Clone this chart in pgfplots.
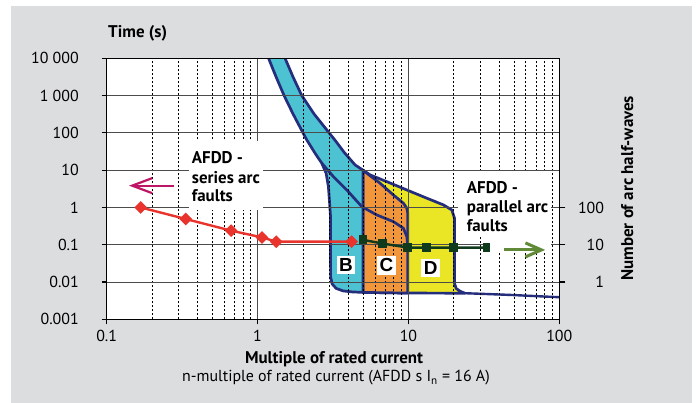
\documentclass[border=0pt]{standalone}
\usepackage{fontspec}
\setmainfont{PT Sans}
\newfontfamily\letterfont{Liberation Sans}
\usepackage{pgfplots}
\pgfplotsset{compat=1.18}
\usetikzlibrary{arrows.meta}

\definecolor{panelgray}{RGB}{220,221,223}
\definecolor{bfill}{RGB}{76,194,211}
\definecolor{cfill}{RGB}{242,150,60}
\definecolor{dfill}{RGB}{234,230,38}
\definecolor{curve}{RGB}{36,46,124}
\definecolor{seriesred}{RGB}{232,52,44}
\definecolor{pardark}{RGB}{16,58,28}
\definecolor{arrowgreen}{RGB}{96,138,56}
\definecolor{arrowpink}{RGB}{190,22,102}

\newcommand{\tickfont}{\fontsize{16}{19}\selectfont}
\newcommand{\labelfont}{\fontsize{17}{19}\selectfont\bfseries}
\newcommand{\notefont}{\fontsize{17}{19}\selectfont\bfseries}
\newcommand{\zonefont}{\letterfont\fontsize{19}{20}\selectfont\bfseries}

\tikzset{zoneline/.style={draw=curve, line width=2.7bp, line join=round}}

\begin{document}
\begin{tikzpicture}
\path[use as bounding box] (-106.7bp,-83.7bp) rectangle (589.3bp,319.3bp);
\fill[panelgray] (-95.7bp,-83.7bp) rectangle (585.3bp,313.3bp);
\fill[white] (0bp,0bp) rectangle (452.6bp,261bp);

% tripping zones of the B, C and D characteristics
\begin{axis}[xmode=log, ymode=log,
    xmin=0.1, xmax=100, ymin=0.001, ymax=10000,
    width=452.6bp, height=261bp, scale only axis,
    at={(0bp,0bp)}, anchor=south west, hide axis]
\addplot[zoneline, fill=dfill] coordinates {
  (5,10) (5.58,7.43) (7.19,4.92) (9.76,2.94) (13.24,1.77) (17.06,1.17)
  (19.4,0.857) (20.2,0.513) (20.2,0.00929) (20.7,0.00673) (22.1,0.0056)
  (23.7,0.00501) (9.9,0.00506) (5,0.00526) (5,10)};
\addplot[zoneline, fill=cfill] coordinates {
  (5,10) (5.30,8.26) (6.49,4.45) (7.95,2.16) (9.26,1.30) (9.76,0.953)
  (9.9,0.70) (9.9,0.00506) (5,0.00526) (5,10)};
\addplot[zoneline, fill=bfill] coordinates {
  (1.13,16000) (1.183,10000) (1.327,3155) (1.499,1000) (1.719,321)
  (2.003,99) (2.12,64.5) (2.406,28.4) (2.666,15.3) (2.847,8.26)
  (2.948,3.61) (2.993,1.59) (3.04,0.629) (3.05,0.0137) (3.12,0.00889)
  (3.32,0.00673) (3.69,0.00577) (4.23,0.00543) (5,0.00526) (5,10)
  (4.43,13.8) (3.75,30) (3.30,60) (2.98,100) (2.370,321) (1.964,1000)
  (1.719,3155) (1.522,10000) (1.45,16000) (1.13,16000)};
\addplot[zoneline] coordinates {
  (2.666,15.3) (3.182,6.70) (3.904,2.94) (4.91,1.05) (6.17,0.629)
  (7.95,0.416) (9.26,0.277) (9.76,0.165) (9.9,0.089)};
\addplot[draw=curve, line width=2.4bp] coordinates {
  (23.7,0.00501) (47.2,0.00451) (100,0.00391)};
\end{axis}

% grid, scales and test points
\begin{axis}[xmode=log, ymode=log,
  xmin=0.1, xmax=100, ymin=0.001, ymax=10000,
  width=452.6bp, height=261bp, scale only axis,
  at={(0bp,0bp)}, anchor=south west,
  axis line style={black, line width=1.2bp},
  tick style={black, line width=1.1bp},
  tick align=outside, major tick length=5bp, minor tick length=0pt,
  tick pos=left,
  xtick={0.1,1,10,100}, xticklabels={0.1,1,10,100},
  minor xtick={0.2,0.3,0.4,0.5,0.6,0.7,0.8,0.9,2,3,4,5,6,7,8,9,20,30,40,50,60,70,80,90},
  ytick={0.001,0.01,0.1,1,10,100,1000,10000},
  yticklabels={0.001,0.01,0.1,1,10,100,1 000,10 000},
  xmajorgrids, xminorgrids, ymajorgrids,
  major grid style={black!70, line width=0.9bp},
  minor grid style={black, line width=0.7bp, dash pattern=on 2bp off 2bp},
  xticklabel style={font=\tickfont, anchor=base, inner sep=0pt, yshift=-17.2bp},
  yticklabel style={font=\tickfont, anchor=east, inner sep=0pt, xshift=-22.7bp},
]
\addplot[seriesred, line width=2.4bp, mark=square*, mark size=3.3bp,
  mark options={rotate=45, solid}] coordinates {
  (0.168,1.0) (0.334,0.49) (0.667,0.239) (1.07,0.157) (1.33,0.121) (4.2,0.121)};
\addplot[pardark, line width=2.4bp, mark=square*, mark size=3.2bp] coordinates {
  (5.0,0.135) (6.7,0.108) (9.9,0.084) (13.2,0.084) (19.8,0.084) (33.3,0.084)};
\node[fill=white, inner sep=2.5bp, font=\zonefont] at (axis cs:3.86,0.0287) {B};
\node[fill=white, inner sep=2.5bp, font=\zonefont] at (axis cs:7.15,0.0279) {C};
\node[fill=white, inner sep=2.5bp, font=\zonefont] at (axis cs:14.04,0.0239) {D};
\coordinate (pinkA) at (axis cs:0.2794,3.84);
\coordinate (pinkB) at (axis cs:0.1406,3.84);
\coordinate (greenA) at (axis cs:43.3,0.0726);
\coordinate (greenB) at (axis cs:80.6,0.0726);
\end{axis}

% half-wave scale on the right
\begin{axis}[width=452.6bp, height=261bp, scale only axis,
  at={(0bp,0bp)}, anchor=south west,
  ymode=log, ymin=0.1, ymax=1000000, xmin=0, xmax=1,
  hide x axis, axis y line*=right,
  axis line style={black, line width=1.2bp},
  tick style={black, line width=1.1bp},
  tick align=outside, major tick length=6bp, minor tick length=0pt,
  ytick={1,10,100}, yticklabels={1,10,100},
  yticklabel style={font=\tickfont, anchor=east, inner sep=0pt, xshift=39bp},
]
\addplot[draw=none] coordinates {(0.5,1)};
\end{axis}

% annotation boxes
\fill[white] (82.3bp,109.3bp) rectangle (156.3bp,178.3bp);
\fill[white] (351.3bp,83.3bp) rectangle (444.3bp,148.3bp);
\fill[white] (383.3bp,67.3bp) rectangle (444.3bp,83.3bp);
\node[anchor=base west, inner sep=0pt, font=\notefont] at (85bp,155.8bp) {AFDD -};
\node[anchor=base west, inner sep=0pt, font=\notefont] at (85bp,135.3bp) {series arc};
\node[anchor=base west, inner sep=0pt, font=\notefont] at (85bp,117.6bp) {faults};
\node[anchor=base west, inner sep=0pt, font=\notefont] at (360bp,126bp) {AFDD -};
\node[anchor=base west, inner sep=0pt, font=\notefont] at (360bp,106.3bp) {parallel arc};
\node[anchor=base west, inner sep=0pt, font=\notefont] at (360bp,87.6bp) {faults};
\draw[arrowpink, line width=2.2bp, -{Straight Barb[length=20bp,width=15bp]}] (pinkA) -- (pinkB);
\draw[arrowgreen, line width=3bp, -{Straight Barb[length=16bp,width=14bp]}] (greenA) -- (greenB);

% titles
\node[anchor=base west, inner sep=0pt, font=\labelfont] at (1.3bp,281.8bp) {Time (s)};
\node[anchor=base, inner sep=0pt, font=\labelfont] at (227.3bp,-44bp) {Multiple of rated current};
\node[anchor=base, inner sep=0pt, font=\tickfont] at (229.3bp,-62.4bp)
  {n-multiple of rated current (AFDD s I\textsubscript{n} = 16 A)};
\node[anchor=base, rotate=90, inner sep=0pt, font=\labelfont] at (526.3bp,131bp) {Number of arc half-waves};
\end{tikzpicture}
\end{document}
